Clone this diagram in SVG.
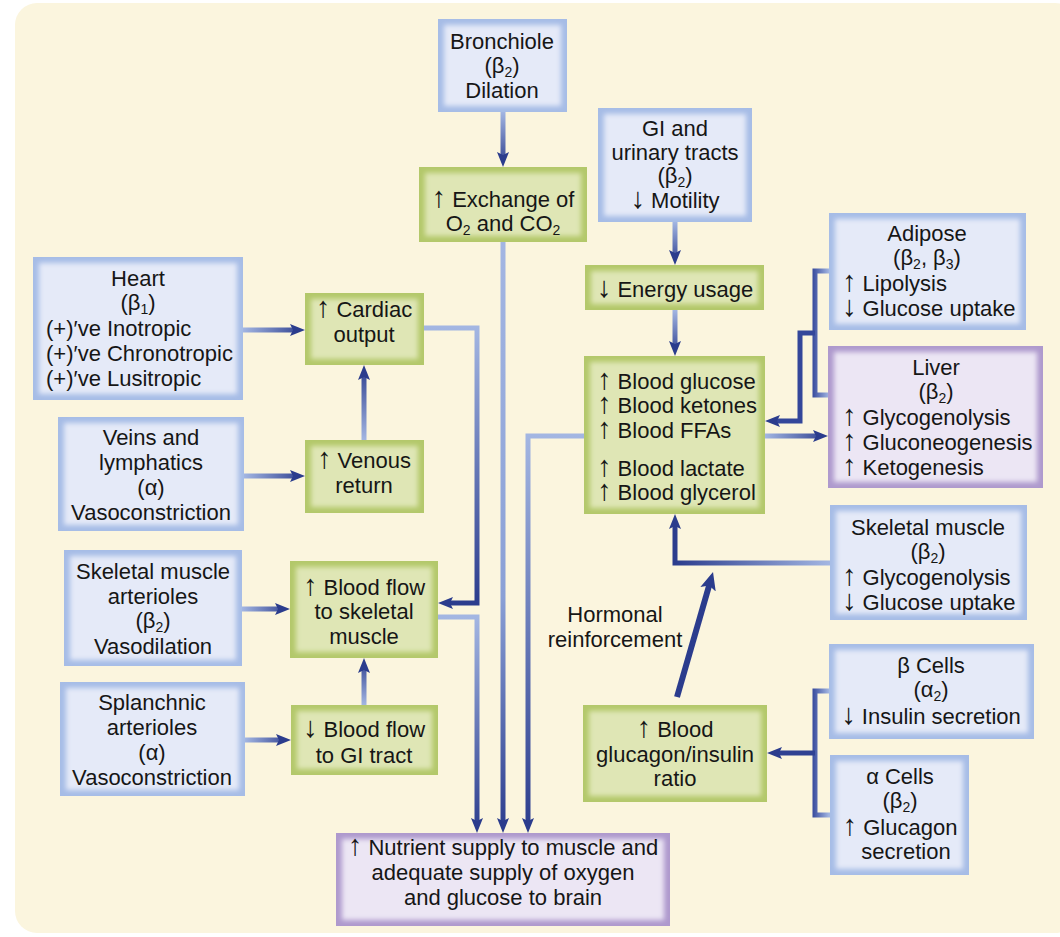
<svg xmlns="http://www.w3.org/2000/svg" width="1060" height="937" viewBox="0 0 1060 937">
  <style>
    .t { font-family: "Liberation Sans", Arial, sans-serif; font-size: 22px; fill: #161616; }
    .c { text-anchor: middle; }
    .s { font-size: 14px; }
    .ar { font-size: 29px; }
    .bo { fill: #a6bce6; }
    .bi { fill: #e5eaf8; }
    .go { fill: #b3c86a; }
    .gi { fill: #dfe6b5; }
    .po { fill: #ae99cd; }
    .pi { fill: #ece6f4; }
    .ln { fill: none; stroke-width: 5; stroke-linejoin: miter; }
  </style>
  <defs>
    <filter id="soft" x="-10%" y="-10%" width="120%" height="120%">
      <feGaussianBlur stdDeviation="2.5"/>
    </filter>
    <marker id="ah" markerUnits="userSpaceOnUse" markerWidth="16" markerHeight="12" refX="5" refY="6" orient="auto">
      <path d="M0,0 L15,6 L0,12 L3,6 Z" fill="#2b3c8d"/>
    </marker>
    <marker id="ah2" markerUnits="userSpaceOnUse" markerWidth="19" markerHeight="16" refX="6" refY="8" orient="auto">
      <path d="M0,0 L18,8 L0,16 L4,8 Z" fill="#2b3c8d"/>
    </marker>
    <!-- connector fades: pale at the source, deep blue at the arrowhead -->
    <linearGradient id="g1" gradientUnits="userSpaceOnUse" x1="0" y1="112" x2="0" y2="167"><stop offset="0" stop-color="#a3b6e2"/><stop offset="1" stop-color="#2b3c8d"/></linearGradient>
    <linearGradient id="g2" gradientUnits="userSpaceOnUse" x1="0" y1="222" x2="0" y2="265"><stop offset="0" stop-color="#a3b6e2"/><stop offset="1" stop-color="#2b3c8d"/></linearGradient>
    <linearGradient id="g3" gradientUnits="userSpaceOnUse" x1="0" y1="310" x2="0" y2="356"><stop offset="0" stop-color="#a3b6e2"/><stop offset="1" stop-color="#2b3c8d"/></linearGradient>
    <linearGradient id="g4" gradientUnits="userSpaceOnUse" x1="243" y1="0" x2="305" y2="0"><stop offset="0" stop-color="#a3b6e2"/><stop offset="1" stop-color="#2b3c8d"/></linearGradient>
    <linearGradient id="g5" gradientUnits="userSpaceOnUse" x1="0" y1="440" x2="0" y2="365"><stop offset="0" stop-color="#a3b6e2"/><stop offset="1" stop-color="#2b3c8d"/></linearGradient>
    <linearGradient id="g6" gradientUnits="userSpaceOnUse" x1="244" y1="0" x2="305" y2="0"><stop offset="0" stop-color="#a3b6e2"/><stop offset="1" stop-color="#2b3c8d"/></linearGradient>
    <linearGradient id="g7" gradientUnits="userSpaceOnUse" x1="242" y1="0" x2="290" y2="0"><stop offset="0" stop-color="#a3b6e2"/><stop offset="1" stop-color="#2b3c8d"/></linearGradient>
    <linearGradient id="g8" gradientUnits="userSpaceOnUse" x1="245" y1="0" x2="291" y2="0"><stop offset="0" stop-color="#a3b6e2"/><stop offset="1" stop-color="#2b3c8d"/></linearGradient>
    <linearGradient id="g9" gradientUnits="userSpaceOnUse" x1="0" y1="705" x2="0" y2="658"><stop offset="0" stop-color="#a3b6e2"/><stop offset="1" stop-color="#2b3c8d"/></linearGradient>
    <linearGradient id="g10" gradientUnits="userSpaceOnUse" x1="0" y1="328" x2="0" y2="603"><stop offset="0" stop-color="#a3b6e2"/><stop offset="1" stop-color="#2b3c8d"/></linearGradient>
    <linearGradient id="g11" gradientUnits="userSpaceOnUse" x1="0" y1="617" x2="0" y2="833"><stop offset="0" stop-color="#a3b6e2"/><stop offset="1" stop-color="#2b3c8d"/></linearGradient>
    <linearGradient id="g12" gradientUnits="userSpaceOnUse" x1="0" y1="242" x2="0" y2="833"><stop offset="0" stop-color="#a3b6e2"/><stop offset="0.6" stop-color="#8aa0d6"/><stop offset="1" stop-color="#2b3c8d"/></linearGradient>
    <linearGradient id="g13" gradientUnits="userSpaceOnUse" x1="0" y1="436" x2="0" y2="833"><stop offset="0" stop-color="#a3b6e2"/><stop offset="1" stop-color="#2b3c8d"/></linearGradient>
    <linearGradient id="g14" gradientUnits="userSpaceOnUse" x1="765" y1="0" x2="828" y2="0"><stop offset="0" stop-color="#a3b6e2"/><stop offset="1" stop-color="#2b3c8d"/></linearGradient>
    <linearGradient id="g15" gradientUnits="userSpaceOnUse" x1="829" y1="0" x2="812" y2="0"><stop offset="0" stop-color="#a3b6e2"/><stop offset="1" stop-color="#33469a"/></linearGradient>
    <linearGradient id="g16" gradientUnits="userSpaceOnUse" x1="830" y1="0" x2="675" y2="0"><stop offset="0" stop-color="#a3b6e2"/><stop offset="1" stop-color="#2b3c8d"/></linearGradient>
  </defs>

  <rect x="15" y="3" width="1062" height="930" rx="22" fill="#fbf5de"/>

  <g id="connectors">
    <path class="ln" stroke="url(#g1)" d="M503,112 V157" marker-end="url(#ah)"/>
    <path class="ln" stroke="url(#g2)" d="M675,222 V255" marker-end="url(#ah)"/>
    <path class="ln" stroke="url(#g3)" d="M675,310 V346" marker-end="url(#ah)"/>
    <path class="ln" stroke="url(#g4)" d="M243,330 H295" marker-end="url(#ah)"/>
    <path class="ln" stroke="url(#g5)" d="M364,440 V375" marker-end="url(#ah)"/>
    <path class="ln" stroke="url(#g6)" d="M244,476 H295" marker-end="url(#ah)"/>
    <path class="ln" stroke="url(#g7)" d="M242,609 H280" marker-end="url(#ah)"/>
    <path class="ln" stroke="url(#g8)" d="M245,740 H281" marker-end="url(#ah)"/>
    <path class="ln" stroke="url(#g9)" d="M364,705 V668" marker-end="url(#ah)"/>
    <path class="ln" stroke="url(#g10)" d="M424,328 H477 V603 H448" marker-end="url(#ah)"/>
    <path class="ln" stroke="url(#g11)" d="M438,617 H477 V823" marker-end="url(#ah)"/>
    <path class="ln" stroke="url(#g12)" d="M503,242 V823" marker-end="url(#ah)"/>
    <path class="ln" stroke="url(#g13)" d="M584,436 H528 V823" marker-end="url(#ah)"/>
    <path class="ln" stroke="url(#g14)" d="M765,436 H818" marker-end="url(#ah)"/>
    <path class="ln" stroke="url(#g15)" d="M829,271 H815 V395 H829"/>
    <path class="ln" stroke="#33469a" d="M815,333 H800 V421 H775" marker-end="url(#ah)"/>
    <path class="ln" stroke="url(#g16)" d="M830,563 H675 V524" marker-end="url(#ah)"/>
    <path class="ln" stroke="url(#g15)" d="M829,691 H815 V815 H830"/>
    <path class="ln" stroke="#2f4192" d="M815,753 H777" marker-end="url(#ah)"/>
    <path fill="none" stroke="#2b3c8d" stroke-width="6" d="M677,697 L709.7,583.5" marker-end="url(#ah2)"/>
  </g>

  <g id="bronchiole">
    <rect class="bo" x="438" y="19" width="129" height="93"/>
    <rect class="bi" x="444" y="25" width="117" height="81" filter="url(#soft)"/>
    <text class="t c" x="502" y="49">Bronchiole</text>
    <text class="t c" x="502" y="73">(β<tspan class="s" dy="4">2</tspan><tspan dy="-4">)</tspan></text>
    <text class="t c" x="502" y="98">Dilation</text>
  </g>

  <g id="gas-exchange">
    <rect class="go" x="419" y="167" width="168" height="75"/>
    <rect class="gi" x="425" y="173" width="156" height="63" filter="url(#soft)"/>
    <text class="t c" x="503" y="207"><tspan class="ar">↑</tspan> Exchange of</text>
    <text class="t c" x="503" y="231">O<tspan class="s" dy="4">2</tspan><tspan dy="-4"> and CO</tspan><tspan class="s" dy="4">2</tspan></text>
  </g>

  <g id="gi-tracts">
    <rect class="bo" x="598" y="108" width="154" height="114"/>
    <rect class="bi" x="604" y="114" width="142" height="102" filter="url(#soft)"/>
    <text class="t c" x="675" y="136">GI and</text>
    <text class="t c" x="675" y="160">urinary tracts</text>
    <text class="t c" x="675" y="183">(β<tspan class="s" dy="4">2</tspan><tspan dy="-4">)</tspan></text>
    <text class="t c" x="675" y="208"><tspan class="ar">↓</tspan> Motility</text>
  </g>

  <g id="energy-usage">
    <rect class="go" x="585" y="265" width="179" height="45"/>
    <rect class="gi" x="591" y="271" width="167" height="33" filter="url(#soft)"/>
    <text class="t c" x="675" y="297"><tspan class="ar">↓</tspan> Energy usage</text>
  </g>

  <g id="adipose">
    <rect class="bo" x="829" y="213" width="197" height="117"/>
    <rect class="bi" x="835" y="219" width="185" height="105" filter="url(#soft)"/>
    <text class="t c" x="927" y="241">Adipose</text>
    <text class="t c" x="927" y="265">(β<tspan class="s" dy="4">2</tspan><tspan dy="-4">, β</tspan><tspan class="s" dy="4">3</tspan><tspan dy="-4">)</tspan></text>
    <text class="t" x="842" y="291"><tspan class="ar">↑</tspan> Lipolysis</text>
    <text class="t" x="842" y="316"><tspan class="ar">↓</tspan> Glucose uptake</text>
  </g>

  <g id="liver">
    <rect class="po" x="828" y="346" width="215" height="142"/>
    <rect class="pi" x="834" y="352" width="203" height="130" filter="url(#soft)"/>
    <text class="t c" x="936" y="375">Liver</text>
    <text class="t c" x="936" y="399">(β<tspan class="s" dy="4">2</tspan><tspan dy="-4">)</tspan></text>
    <text class="t" x="842" y="425"><tspan class="ar">↑</tspan> Glycogenolysis</text>
    <text class="t" x="842" y="450"><tspan class="ar">↑</tspan> Gluconeogenesis</text>
    <text class="t" x="842" y="475"><tspan class="ar">↑</tspan> Ketogenesis</text>
  </g>

  <g id="blood-metabolites">
    <rect class="go" x="584" y="356" width="181" height="158"/>
    <rect class="gi" x="590" y="362" width="169" height="146" filter="url(#soft)"/>
    <text class="t" x="597" y="389"><tspan class="ar">↑</tspan> Blood glucose</text>
    <text class="t" x="597" y="413"><tspan class="ar">↑</tspan> Blood ketones</text>
    <text class="t" x="597" y="438"><tspan class="ar">↑</tspan> Blood FFAs</text>
    <text class="t" x="597" y="476"><tspan class="ar">↑</tspan> Blood lactate</text>
    <text class="t" x="597" y="500"><tspan class="ar">↑</tspan> Blood glycerol</text>
  </g>

  <g id="skeletal-muscle">
    <rect class="bo" x="830" y="505" width="197" height="115"/>
    <rect class="bi" x="836" y="511" width="185" height="103" filter="url(#soft)"/>
    <text class="t c" x="928" y="535">Skeletal muscle</text>
    <text class="t c" x="928" y="559">(β<tspan class="s" dy="4">2</tspan><tspan dy="-4">)</tspan></text>
    <text class="t" x="842" y="585"><tspan class="ar">↑</tspan> Glycogenolysis</text>
    <text class="t" x="842" y="610"><tspan class="ar">↓</tspan> Glucose uptake</text>
  </g>

  <g id="beta-cells">
    <rect class="bo" x="829" y="644" width="205" height="95"/>
    <rect class="bi" x="835" y="650" width="193" height="83" filter="url(#soft)"/>
    <text class="t c" x="931" y="673">β Cells</text>
    <text class="t c" x="931" y="697">(α<tspan class="s" dy="4">2</tspan><tspan dy="-4">)</tspan></text>
    <text class="t c" x="931" y="724"><tspan class="ar">↓</tspan> Insulin secretion</text>
  </g>

  <g id="alpha-cells">
    <rect class="bo" x="830" y="755" width="139" height="120"/>
    <rect class="bi" x="836" y="761" width="127" height="108" filter="url(#soft)"/>
    <text class="t c" x="900" y="784">α Cells</text>
    <text class="t c" x="900" y="808">(β<tspan class="s" dy="4">2</tspan><tspan dy="-4">)</tspan></text>
    <text class="t c" x="900" y="835"><tspan class="ar">↑</tspan> Glucagon</text>
    <text class="t c" x="906" y="859">secretion</text>
  </g>

  <g id="glucagon-insulin">
    <rect class="go" x="583" y="705" width="184" height="97"/>
    <rect class="gi" x="589" y="711" width="172" height="85" filter="url(#soft)"/>
    <text class="t c" x="675" y="737"><tspan class="ar">↑</tspan> Blood</text>
    <text class="t c" x="675" y="762">glucagon/insulin</text>
    <text class="t c" x="675" y="786">ratio</text>
  </g>

  <g id="hormonal-label">
    <text class="t c" x="615" y="622">Hormonal</text>
    <text class="t c" x="615" y="647">reinforcement</text>
  </g>

  <g id="heart">
    <rect class="bo" x="33" y="257" width="210" height="143"/>
    <rect class="bi" x="39" y="263" width="198" height="131" filter="url(#soft)"/>
    <text class="t c" x="138" y="286">Heart</text>
    <text class="t c" x="138" y="310">(β<tspan class="s" dy="4">1</tspan><tspan dy="-4">)</tspan></text>
    <text class="t" x="46" y="336">(+)′ve Inotropic</text>
    <text class="t" x="46" y="361">(+)′ve Chronotropic</text>
    <text class="t" x="46" y="386">(+)′ve Lusitropic</text>
  </g>

  <g id="cardiac-output">
    <rect class="go" x="305" y="293" width="119" height="72"/>
    <rect class="gi" x="311" y="299" width="107" height="60" filter="url(#soft)"/>
    <text class="t c" x="364" y="317"><tspan class="ar">↑</tspan> Cardiac</text>
    <text class="t c" x="364" y="342">output</text>
  </g>

  <g id="veins">
    <rect class="bo" x="58" y="417" width="186" height="114"/>
    <rect class="bi" x="64" y="423" width="174" height="102" filter="url(#soft)"/>
    <text class="t c" x="151" y="445">Veins and</text>
    <text class="t c" x="151" y="470">lymphatics</text>
    <text class="t c" x="151" y="495">(α)</text>
    <text class="t c" x="151" y="520">Vasoconstriction</text>
  </g>

  <g id="venous-return">
    <rect class="go" x="305" y="440" width="119" height="73"/>
    <rect class="gi" x="311" y="446" width="107" height="61" filter="url(#soft)"/>
    <text class="t c" x="364" y="468"><tspan class="ar">↑</tspan> Venous</text>
    <text class="t c" x="364" y="493">return</text>
  </g>

  <g id="muscle-arterioles">
    <rect class="bo" x="64" y="550" width="178" height="116"/>
    <rect class="bi" x="70" y="556" width="166" height="104" filter="url(#soft)"/>
    <text class="t c" x="153" y="579">Skeletal muscle</text>
    <text class="t c" x="153" y="604">arterioles</text>
    <text class="t c" x="153" y="628">(β<tspan class="s" dy="4">2</tspan><tspan dy="-4">)</tspan></text>
    <text class="t c" x="153" y="654">Vasodilation</text>
  </g>

  <g id="muscle-flow">
    <rect class="go" x="290" y="561" width="148" height="97"/>
    <rect class="gi" x="296" y="567" width="136" height="85" filter="url(#soft)"/>
    <text class="t c" x="364" y="595"><tspan class="ar">↑</tspan> Blood flow</text>
    <text class="t c" x="364" y="619">to skeletal</text>
    <text class="t c" x="364" y="644">muscle</text>
  </g>

  <g id="splanchnic">
    <rect class="bo" x="60" y="682" width="185" height="114"/>
    <rect class="bi" x="66" y="688" width="173" height="102" filter="url(#soft)"/>
    <text class="t c" x="152" y="710">Splanchnic</text>
    <text class="t c" x="152" y="735">arterioles</text>
    <text class="t c" x="152" y="760">(α)</text>
    <text class="t c" x="152" y="785">Vasoconstriction</text>
  </g>

  <g id="gi-flow">
    <rect class="go" x="291" y="705" width="147" height="70"/>
    <rect class="gi" x="297" y="711" width="135" height="58" filter="url(#soft)"/>
    <text class="t c" x="364" y="737"><tspan class="ar">↓</tspan> Blood flow</text>
    <text class="t c" x="364" y="763">to GI tract</text>
  </g>

  <g id="nutrient-supply">
    <rect class="po" x="336" y="833" width="334" height="93"/>
    <rect class="pi" x="342" y="839" width="322" height="81" filter="url(#soft)"/>
    <text class="t c" x="503" y="855"><tspan class="ar">↑</tspan> Nutrient supply to muscle and</text>
    <text class="t c" x="503" y="880">adequate supply of oxygen</text>
    <text class="t c" x="503" y="905">and glucose to brain</text>
  </g>
</svg>
